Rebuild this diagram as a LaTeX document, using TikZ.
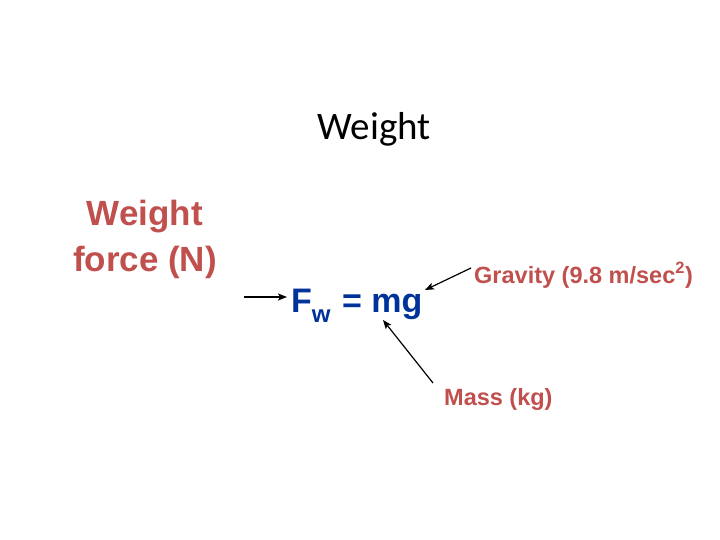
\documentclass[tikz,border=0pt]{standalone}
\usepackage{fontspec}
\setmainfont{Liberation Sans}
\newfontfamily\titlefont{Carlito}
\usetikzlibrary{arrows.meta}
\definecolor{lblred}{RGB}{192,80,77}
\definecolor{eqblue}{RGB}{0,51,153}
\begin{document}
\begin{tikzpicture}[x=1pt,y=-1pt,
  lbl/.style={inner sep=0pt,anchor=base west,text=lblred,font=\bfseries\fontsize{23.5}{23.5}\selectfont},
  arr/.style={line width=1.2pt,-{Stealth[length=9pt,width=7pt,inset=2pt]}}]
\useasboundingbox (0,0) rectangle (720,540);
\node[inner sep=0pt,anchor=base,font=\titlefont\fontsize{39}{39}\selectfont] (title) at (374,140) {Weight};
\node[inner sep=0pt,anchor=base,text=lblred,align=center,font=\bfseries\fontsize{35}{46}\selectfont] (wf) at (145,271) {Weight\\force (N)};
\node[inner sep=0pt,anchor=base west,text=eqblue,font=\bfseries\fontsize{34}{34}\selectfont] (eq) at (291,312) {F\raisebox{-10pt}{\fontsize{24}{24}\selectfont w}\hspace{2pt} = mg};
\node[lbl] (grav) at (474,283) {Gravity (9.8 m/sec\textsuperscript{2})};
\node[lbl] (mass) at (444,405) {Mass (kg)};
\coordinate (fin) at (244,297);
\draw[arr] (fin) -- ([xshift=-4pt]eq.west |- fin);
\draw[arr] ([shift={(-3,-15)}]grav.base west) -- (425,290);
\draw[arr] ([shift={(-11,-22)}]mass.base west) -- (383,320);
\end{tikzpicture}
\end{document}
